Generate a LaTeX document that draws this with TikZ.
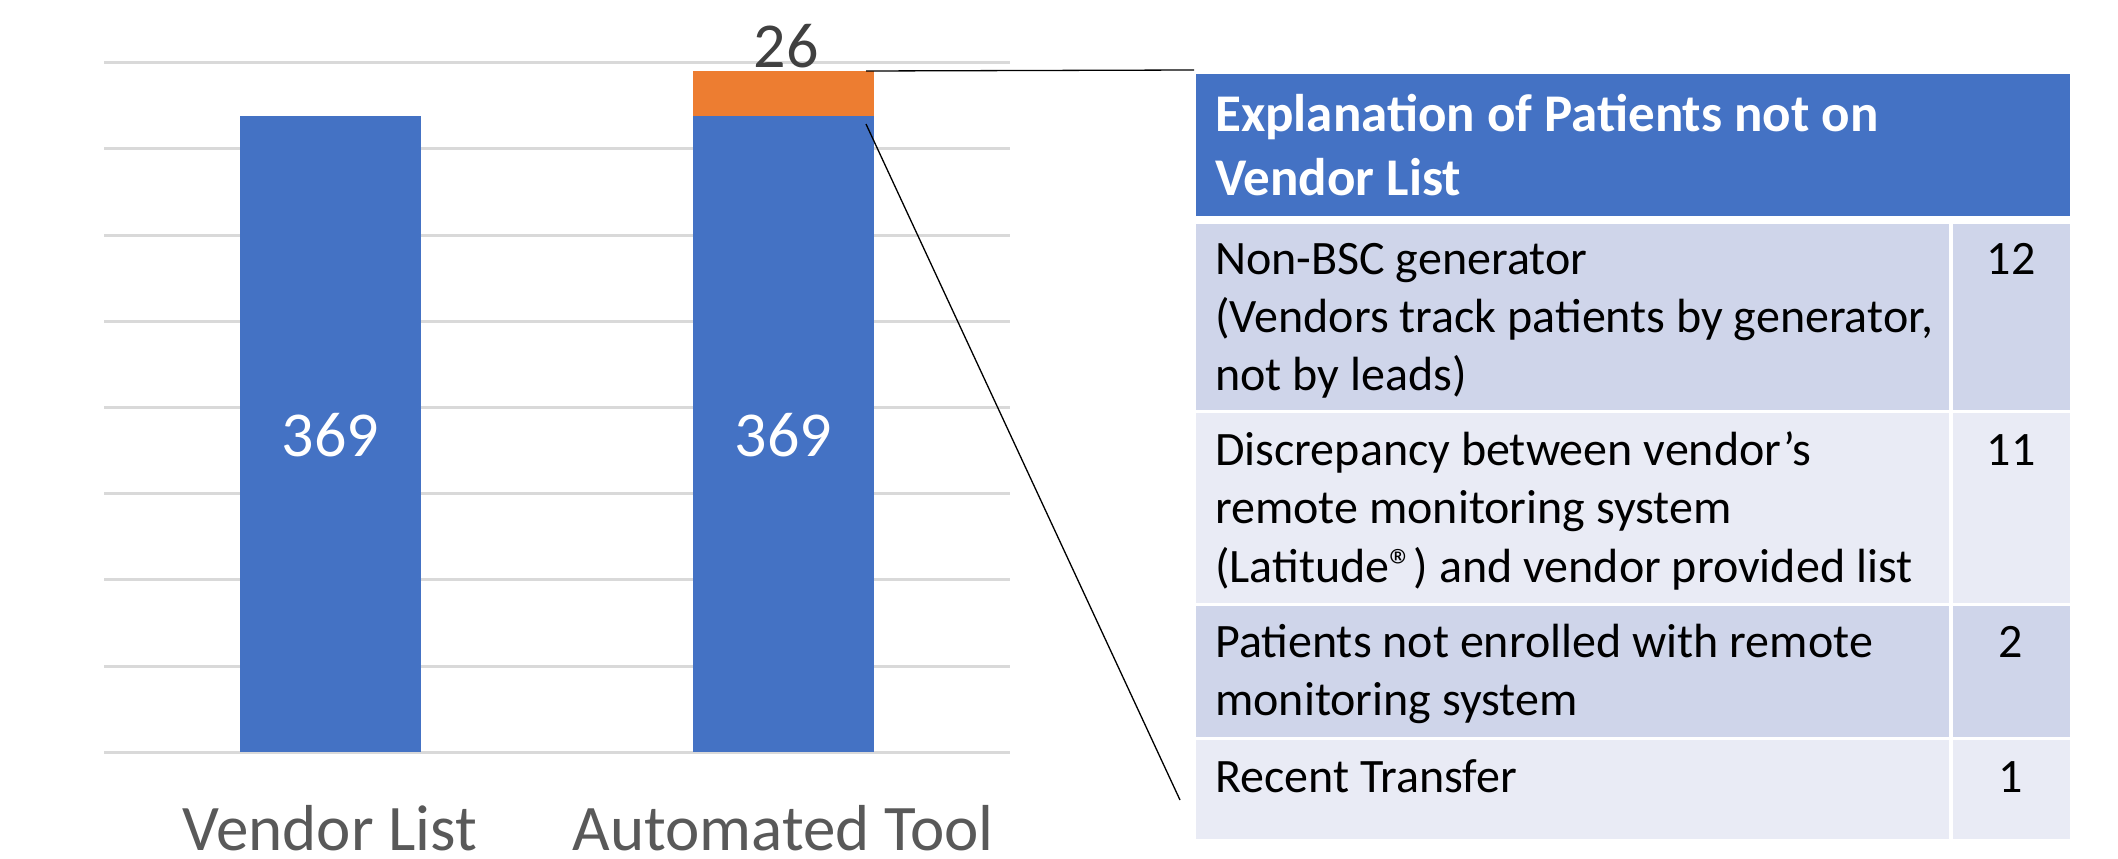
\documentclass[tikz,border=0pt]{standalone}
\usepackage{fontspec}
\setmainfont{Carlito}
\definecolor{barblue}{HTML}{4472C4}
\definecolor{barorange}{HTML}{ED7D31}
\definecolor{gridgray}{HTML}{D9D9D9}
\definecolor{rowa}{HTML}{CFD5EA}
\definecolor{rowb}{HTML}{E9EBF5}
\definecolor{axistext}{HTML}{595959}
\definecolor{labeltext}{HTML}{404040}
\newcommand{\regmark}{{\fontsize{48}{48}\selectfont ®}}
\tikzset{
  gridline/.style={draw=gridgray, line width=3pt},
  connector/.style={draw=black, line width=1.3pt},
  bodytext/.style={anchor=base west, inner sep=0pt, font=\fontsize{48}{58}\selectfont, text=black},
  numtext/.style={anchor=base, inner sep=0pt, font=\fontsize{48}{58}\selectfont, text=black},
  headtext/.style={anchor=base west, inner sep=0pt, font=\fontsize{53}{64}\selectfont\bfseries, text=white},
  vallabel/.style={anchor=base, inner sep=0pt, font=\fontsize{64}{64}\selectfont},
  catlabel/.style={anchor=base, inner sep=0pt, text depth=0pt, font=\fontsize{65}{65}\selectfont, text=axistext}
}
\begin{document}
\begin{tikzpicture}[x=1pt,y=-1pt]
\useasboundingbox (0,0) rectangle (2118,859);
\fill[white] (0,0) rectangle (2118,859);
% gridlines
\foreach \i in {0,...,8}{
  \pgfmathsetmacro{\gy}{62.7+86.2*\i}
  \draw[gridline] (104,\gy) -- (1010,\gy);
}
% bars
\fill[barblue] (240,116) rectangle (421,752);
\fill[barblue] (693,116) rectangle (874,752);
\fill[barorange] (693,71) rectangle (874,116);
\coordinate (otop) at (866,71);
\coordinate (btop) at (866,124);
% bar labels
\node[vallabel, text=white] (v1) at (330.5,456) {369};
\node[vallabel, text=white] (v2) at (783.5,456) {369};
\node[vallabel, text=labeltext] (v3) at (786,67) {26};
\node[catlabel] (c1) at (330,850) {Vendor List};
\node[catlabel] (c2) at (783,850) {Automated Tool};
% table
\fill[barblue] (1196,74) rectangle (2070,216);
\fill[rowa] (1196,224) rectangle (1949,410);
\fill[rowa] (1953,224) rectangle (2070,410);
\fill[rowb] (1196,413) rectangle (1949,603);
\fill[rowb] (1953,413) rectangle (2070,603);
\fill[rowa] (1196,606) rectangle (1949,737);
\fill[rowa] (1953,606) rectangle (2070,737);
\fill[rowb] (1196,740) rectangle (1949,839);
\fill[rowb] (1953,740) rectangle (2070,839);
\coordinate (tabtl) at (1194,70);
\coordinate (tabbl) at (1180,800);
\node[headtext] (h1) at (1215,131) {Explanation of Patients not on};
\node[headtext] (h2) at (1215,195) {Vendor List};
\node[bodytext] (r1a) at (1215,274) {Non-BSC generator};
\node[bodytext] (r1b) at (1215,332) {(Vendors track patients by generator,};
\node[bodytext] (r1c) at (1215,390) {not by leads)};
\node[bodytext] (r2a) at (1215,465) {Discrepancy between vendor’s};
\node[bodytext] (r2b) at (1215,523) {remote monitoring system};
\node[bodytext] (r2c) at (1215,582) {(Latitude\regmark) and vendor provided list};
\node[bodytext] (r3a) at (1215,657) {Patients not enrolled with remote};
\node[bodytext] (r3b) at (1215,715) {monitoring system};
\node[bodytext] (r4a) at (1215,792) {Recent Transfer};
\node[numtext] (n1) at (2011,274) {12};
\node[numtext] (n2) at (2011,465) {11};
\node[numtext] (n3) at (2011,657) {2};
\node[numtext] (n4) at (2011,792) {1};
% connectors
\draw[connector] (otop) -- (tabtl);
\draw[connector] (btop) -- (tabbl);
\end{tikzpicture}
\end{document}
